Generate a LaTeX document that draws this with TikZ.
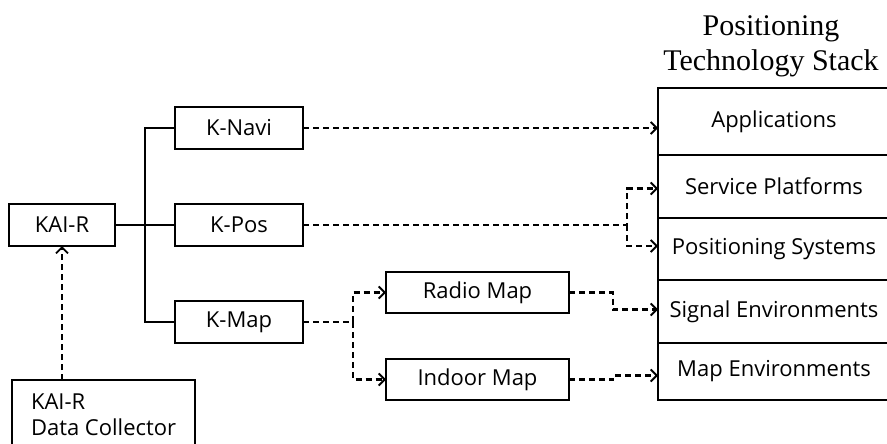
\documentclass[tikz,border=0pt]{standalone}
\usepackage{fontspec}
\setmainfont{Liberation Serif}
\setsansfont{Open Sans}
\usetikzlibrary{positioning,arrows.meta}

\begin{document}
\begin{tikzpicture}
[
x=1pt, y=-1pt,
box-a/.style={draw, line width=2.2pt, outer sep=0pt, inner sep=0pt, minimum width=106pt, minimum height=42pt, font=\sffamily\fontsize{22}{26}\selectfont},
box-b/.style={box-a, minimum width=128pt},
box-c/.style={box-a, minimum width=183pt, minimum height=41pt},
layer/.style={box-a, minimum width=232pt, anchor=north west},
text-a/.style={font=\rmfamily\fontsize{30}{35}\selectfont, align=center},
link-a/.style={line width=2.2pt},
link-b/.style={line width=2.1pt, dash pattern=on 6pt off 4pt, -{Straight Barb[length=6pt, width=12pt, line width=1.8pt]}}
]

\useasboundingbox (0,0) rectangle (887,444);
\clip (0,0) rectangle (887,444);

\node (kai-r)      [box-a]                              at (62,225)   {KAI-R};
\node (k-pos)      [box-b, right = 60pt of kai-r]                     {K-Pos};
\node (k-navi)     [box-b, above = 55pt of k-pos]                     {K-Navi};
\node (k-map)      [box-b, below = 55pt of k-pos]                     {K-Map};
\node (radio-map)  [box-c]                              at (477.5,292.5) {Radio Map};
\node (indoor-map) [box-c, below = 46pt of radio-map]                 {Indoor Map};
\node (collector)  [box-a, anchor=north west, minimum width=181pt, minimum height=70pt, align=left, inner xsep=19pt] at (12,380) {KAI-R\\Data Collector};

\node (stack-app)  [layer, minimum height=67pt]         at (658,88)   {Applications};
\node (stack-srv)  [layer, minimum height=63pt, below = 0pt of stack-app] {Service Platforms};
\node (stack-pos)  [layer, minimum height=62pt, below = 0pt of stack-srv] {Positioning Systems};
\node (stack-sig)  [layer, minimum height=63pt, below = 0pt of stack-pos] {Signal Environments};
\node (stack-env)  [layer, minimum height=57pt, below = 0pt of stack-sig] {Map Environments};
\node (stack-name) [text-a]                             at (771,46)   {Positioning\\Technology Stack};

\coordinate (fork)      at (145,225);
\coordinate (pos-split) at (627,225);
\coordinate (map-split) at (353,322);

\draw [link-a] (kai-r.east) -- (k-pos.west);
\draw [link-a] (k-navi.west) -| (fork) |- (k-map.west);
\draw [link-b] (collector.north -| kai-r.south) -- (kai-r.south);
\draw [link-b] (k-navi.east) -- (k-navi.east -| stack-app.west);
\draw [link-b] (k-pos.east) -- (pos-split) |- ([yshift=-2pt]stack-srv.west);
\draw [link-b] (pos-split) |- ([yshift=3pt]stack-pos.west);
\draw [link-b] (k-map.east) -- (map-split) |- (radio-map.west);
\draw [link-b] (map-split) |- (indoor-map.west);
\draw [link-b] (radio-map.east) -- ++(44,0) |- ([yshift=2pt]stack-sig.west);
\draw [link-b] (indoor-map.east) -- ++(44,0) |- ([yshift=-4pt]stack-env.west);

\end{tikzpicture}
\end{document}
